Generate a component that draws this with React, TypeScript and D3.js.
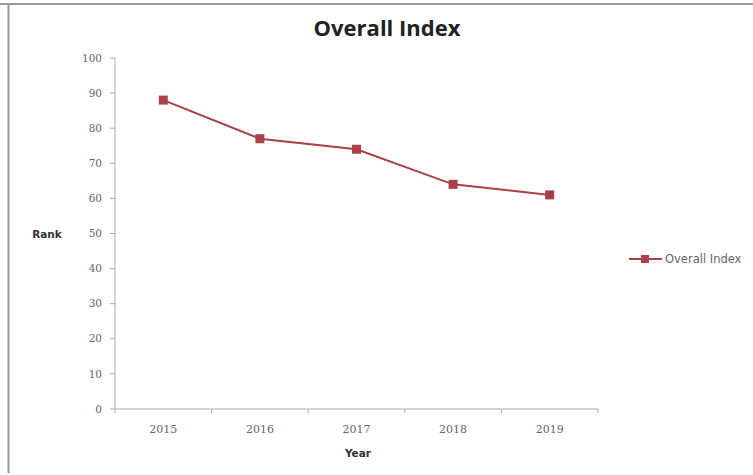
import React from "react";
import * as d3 from "d3";

const years = ["2015", "2016", "2017", "2018", "2019"];
const overallIndex = [88, 77, 74, 64, 61];
const yTicks = [0, 10, 20, 30, 40, 50, 60, 70, 80, 90, 100];
const seriesName = "Overall Index";

export default function App() {
  const W = 753, H = 475;
  const left = 115, right = 598, top = 58, bottom = 409;
  const x = d3.scaleBand<string>().domain(years).range([left, right]);
  const y = d3.scaleLinear().domain([0, 100]).range([bottom, top]);
  const color = "#a8414a";
  const line = d3.line<number>()
    .x((_, i) => (x(years[i]) as number) + x.bandwidth() / 2)
    .y((d) => y(d));
  const font = "'Open Sans', 'DejaVu Sans', sans-serif";
  const tickFont = "'DejaVu Serif', serif";
  const tickColor = "#666";
  return (
    <svg width={W} height={H} style={{ position: "absolute", left: 0, top: 0, background: "#fff" }}
      fontFamily={font}>
      <line x1={0} x2={W} y1={4} y2={4} stroke="#999" strokeWidth={2} />
      <line x1={8.5} x2={8.5} y1={4} y2={473} stroke="#999" strokeWidth={2} />
      <text x={387} y={36} textAnchor="middle" fontSize={22} fontWeight="bold" fill="#222">Overall Index</text>
      {/* y axis */}
      <line x1={left} x2={left} y1={top} y2={bottom} stroke="#aaa" />
      {yTicks.map((t) => (
        <g key={t}>
          <line x1={left - 5} x2={left} y1={y(t)} y2={y(t)} stroke="#aaa" />
          <text x={left - 13} y={y(t)} dy="0.35em" textAnchor="end" fontSize={10.5} fill={tickColor} fontFamily={tickFont}>{t}</text>
        </g>
      ))}
      {/* x axis */}
      <line x1={left} x2={right} y1={bottom} y2={bottom} stroke="#aaa" />
      {years.map((yr) => (
        <line key={"t" + yr} x1={x(yr) as number} x2={x(yr) as number}
          y1={bottom} y2={bottom + 4} stroke="#aaa" />
      ))}
      <line x1={right} x2={right} y1={bottom} y2={bottom + 4} stroke="#aaa" />
      {years.map((yr) => (
        <text key={yr} x={(x(yr) as number) + x.bandwidth() / 2} y={433} textAnchor="middle" fontSize={11} fill={tickColor} fontFamily={tickFont}>{yr}</text>
      ))}
      <text x={358} y={457} textAnchor="middle" fontSize={10.5} fontWeight="bold" fill="#333" fontFamily="'DejaVu Sans', sans-serif">Year</text>
      <text x={47} y={238} textAnchor="middle" fontSize={10.5} fontWeight="bold" fill="#333" fontFamily="'DejaVu Sans', sans-serif">Rank</text>
      {/* series */}
      <path d={line(overallIndex) || ""} fill="none" stroke={color} strokeWidth={2} />
      {overallIndex.map((v, i) => (
        <rect key={i} x={(x(years[i]) as number) + x.bandwidth() / 2 - 4.5} y={y(v) - 4.5} width={9} height={9} fill={color} />
      ))}
      {/* legend */}
      <line x1={629} x2={662} y1={259} y2={259} stroke={color} strokeWidth={2} />
      <rect x={641} y={255} width={8} height={8} fill={color} />
      <text x={665} y={259} dy="0.35em" fontSize={11.5} fill={tickColor} fontFamily="'DejaVu Sans', sans-serif">{seriesName}</text>
    </svg>
  );
}
